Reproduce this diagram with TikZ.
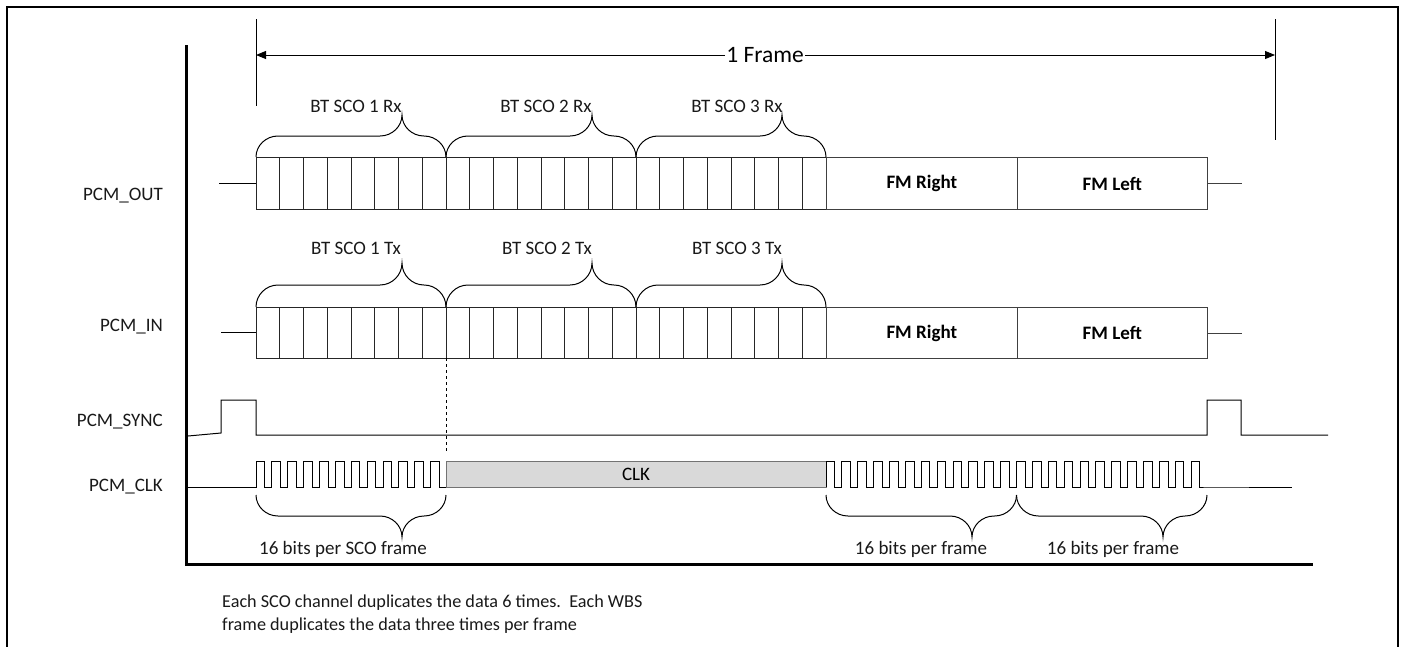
\documentclass[tikz,border=0pt]{standalone}
\usepackage{fontspec}
\setmainfont{Carlito}
\usetikzlibrary{arrows.meta}
% brace: x0, x1, xtip, ybase, ymid, ytip
\newcommand\mybrace[6]{%
  \draw[bracestyle] (#1,#4) .. controls (#1,{#5+0.45*(#4-#5)}) and ({#1+10},#5) .. ({#1+22},#5)
    -- ({#3-22},#5) .. controls ({#3-10},#5) and (#3,{#5+0.45*(#6-#5)}) .. (#3,#6)
    .. controls (#3,{#5+0.45*(#6-#5)}) and ({#3+10},#5) .. ({#3+22},#5)
    -- ({#2-22},#5) .. controls ({#2-10},#5) and (#2,{#5+0.45*(#4-#5)}) .. (#2,#4);}
\tikzset{
  lbl/.style={font=\fontsize{19}{23}\selectfont, inner sep=0pt, text=black!90},
  sig/.style={line width=1pt, draw=black},
  cell/.style={draw=black!85, line width=1pt},
  fmbox/.style={draw=black!75, line width=1.1pt, font=\bfseries\fontsize{19}{23}\selectfont,
    minimum width=190.5pt, minimum height=52pt, anchor=north west, inner sep=0pt},
  bracestyle/.style={line width=1pt, draw=black},
  clkbox/.style={draw=black!55, fill=black!15, line width=1pt, minimum width=380pt,
    minimum height=26pt, inner sep=0pt, font=\fontsize{19}{23}\selectfont},
  note/.style={font=\fontsize{18.2}{22}\selectfont, inner sep=0pt, anchor=west, text=black!90}
}
\begin{document}
\begin{tikzpicture}[x=1pt,y=-1pt]
\useasboundingbox (0,0) rectangle (1405,646);
% outer frame
\draw[line width=2.6pt] (7,660) -- (7,7) -- (1398,7) -- (1398,660);
% axis
\draw[line width=3pt] (186,45) -- (186,564) -- (1313,564);
% 1 frame marker
\coordinate (fl) at (256,55);
\coordinate (fr) at (1275,55);
\draw[line width=1pt] (256,19) -- (256,106);
\draw[line width=1pt] (1275,19) -- (1275,140);
\node[font=\fontsize{23.5}{28}\selectfont, fill=white, inner xsep=1pt, inner ysep=0pt] (frame) at (765,55) {1 Frame};
\draw[line width=1pt, -{Triangle[length=10pt,width=8pt]}] (frame.west) -- (fl);
\draw[line width=1pt, -{Triangle[length=10pt,width=8pt]}] (frame.east) -- (fr);
% signal labels
\node[lbl, anchor=east] (outL) at (163,196) {PCM\_OUT};
\node[lbl, anchor=east] (inL) at (163,327) {PCM\_IN};
\node[lbl, anchor=east] (syncL) at (163,422) {PCM\_SYNC};
\node[lbl, anchor=east] (clkL) at (163,487) {PCM\_CLK};
% PCM_OUT row
\draw[sig] (219,183) -- (256,183);
\foreach \i in {0,...,23} \draw[cell] (256+\i*23.75,157) rectangle ++(23.75,52);
\node[fmbox] (outR) at (826,157) {FM Right};
\node[fmbox] (outLf) at (1016.5,157) {FM Left};
\draw[sig, draw=black!75] (outLf.east) -- ++(34,0);
\mybrace{256}{446}{402}{157}{136}{115}
\mybrace{446}{636}{592}{157}{136}{115}
\mybrace{636}{826}{782}{157}{136}{115}
\node[lbl] (rx1) at (356,106) {BT SCO 1 Rx};
\node[lbl] (rx2) at (546,106) {BT SCO 2 Rx};
\node[lbl] (rx3) at (737,106) {BT SCO 3 Rx};
% PCM_IN row
\draw[sig] (221,332.5) -- (256,332.5);
\foreach \i in {0,...,23} \draw[cell] (256+\i*23.75,307) rectangle ++(23.75,51);
\node[fmbox, minimum height=51pt] (inR) at (826,307) {FM Right};
\node[fmbox, minimum height=51pt] (inLf) at (1016.5,307) {FM Left};
\draw[sig, draw=black!75] (inLf.east) -- ++(34,0);
\mybrace{256}{446}{402}{307}{285}{263}
\mybrace{446}{636}{592}{307}{285}{263}
\mybrace{636}{826}{782}{307}{285}{263}
\node[lbl] (tx1) at (356,248) {BT SCO 1 Tx};
\node[lbl] (tx2) at (547,248) {BT SCO 2 Tx};
\node[lbl] (tx3) at (737,248) {BT SCO 3 Tx};
% PCM_SYNC
\draw[sig] (188,436) -- (221,433) -- (221,400) -- (256,400) -- (256,435) -- (1207,435)
  -- (1207,400) -- (1241,400) -- (1241,435) -- (1328,435);
% PCM_CLK
\def\ph{8.7}
\def\pl{7.175}
\draw[sig] (188,487) -- (256,487)
  \foreach \i in {0,...,11} { -- ++(0,-26) -- ++(\ph,0) -- ++(0,26) -- ++(\pl,0) };
\node[clkbox] (clk) at (636,474) {CLK};
\draw[sig] (826,487)
  \foreach \i in {0,...,23} { -- ++(0,-26) -- ++(\ph,0) -- ++(0,26) -- ++(\pl,0) }
  -- (1292,487);
% dashed marker
\coordinate (dtop) at (446,358);
\coordinate (dbot) at (446,452);
\draw[dashed, line width=1pt] (dtop) -- (dbot);
% bottom braces
\mybrace{256}{446}{402}{495}{516}{537}
\mybrace{826}{1016.5}{972}{495}{516}{537}
\mybrace{1016.5}{1207}{1163}{495}{516}{537}
\node[lbl] (b1) at (343,549) {16 bits per SCO frame};
\node[lbl] (b2) at (921,549) {16 bits per frame};
\node[lbl] (b3) at (1113,549) {16 bits per frame};
% note
\node[note] (n1) at (222,603) {Each SCO channel duplicates the data 6 times.\ \ Each WBS};
\node[note] (n2) at (222,626) {frame duplicates the data three times per frame};
\end{tikzpicture}
\end{document}
